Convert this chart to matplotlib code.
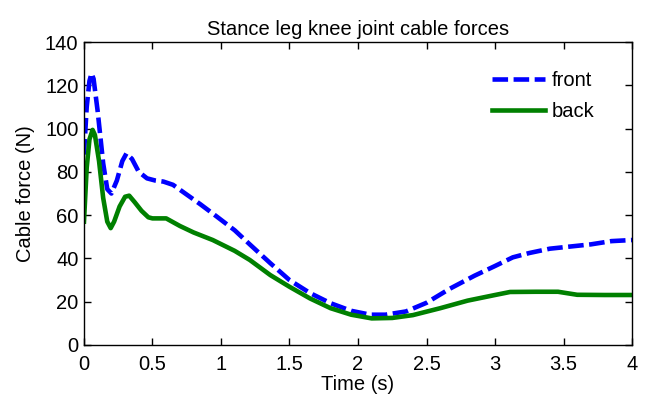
import numpy as np
import matplotlib.pyplot as plt

plt.rcParams['font.family'] = ['Liberation Sans', 'DejaVu Sans']

# front cable force (N) over time (s)
t_front = [0, 0.02, 0.04, 0.055, 0.07, 0.10, 0.14, 0.17, 0.20, 0.24, 0.28, 0.31,
           0.35, 0.40, 0.46, 0.52, 0.58, 0.65, 0.75, 0.85, 0.97, 1.1, 1.21, 1.36,
           1.5, 1.65, 1.8, 1.95, 2.09, 2.2, 2.35, 2.5, 2.67, 2.85, 3.0, 3.13,
           3.25, 3.4, 3.55, 3.7, 3.85, 4.0]
front = [88, 110, 122, 125.5, 123, 108, 84, 72, 70, 76, 85, 88.5,
         86, 80, 77, 76, 75.5, 74, 69.5, 65, 59.3, 53, 46.5, 37.8,
         30, 24, 19.3, 15.8, 14, 14, 15.5, 19.5, 26, 32, 36.5, 40.5,
         42.5, 44.5, 45.5, 46.5, 48, 48.5]

# back cable force (N) over time (s)
t_back = [0, 0.02, 0.04, 0.063, 0.08, 0.11, 0.14, 0.17, 0.195, 0.22, 0.26, 0.30,
          0.33, 0.37, 0.42, 0.47, 0.50, 0.6, 0.7, 0.8, 0.94, 1.1, 1.21, 1.36,
          1.5, 1.65, 1.8, 1.95, 2.1, 2.25, 2.4, 2.6, 2.8, 3.0, 3.11, 3.3,
          3.46, 3.6, 3.8, 4.0]
back = [57, 82, 95, 99.4, 97, 85, 68, 57, 54, 57, 64, 68.5,
        69, 66, 62, 59, 58.5, 58.5, 55, 52, 48.5, 43.5, 39.3, 32.3,
        26.9, 21.5, 17, 14, 12.3, 12.5, 13.8, 17, 20.5, 23.1, 24.5, 24.6,
        24.6, 23.2, 23.1, 23.1]

xticks = [0, 0.5, 1, 1.5, 2, 2.5, 3, 3.5, 4]
xticklabels = ['0', '0.5', '1', '1.5', '2', '2.5', '3', '3.5', '4']
yticks = [0, 20, 40, 60, 80, 100, 120, 140]

fs = 14.5

fig = plt.figure(figsize=(6.54, 4.0), dpi=100)
ax = fig.add_axes([0.1284, 0.1375, 0.838, 0.7575])

ax.plot(t_front, front, color=(0, 0, 1), lw=3.3, ls=(0, (3.4, 1.2)),
        label='front')
ax.plot(t_back, back, color=(0, 0.5, 0), lw=3.3, label='back')

ax.set_xlim(0, 4)
ax.set_ylim(0, 140)
ax.set_xticks(xticks)
ax.set_xticklabels(xticklabels)
ax.set_yticks(yticks)
ax.tick_params(direction='in', top=True, right=True, labelsize=fs,
               length=5, width=1)
ax.tick_params(axis='x', pad=7)
ax.tick_params(axis='y', pad=4)
for s in ax.spines.values():
    s.set_linewidth(1)

ax.set_title('Stance leg knee joint cable forces', fontsize=fs, pad=5)
ax.set_xlabel('Time (s)', fontsize=fs, labelpad=1)
ax.set_ylabel('Cable force (N)', fontsize=fs, labelpad=7)

ax.legend(loc='upper left', bbox_to_anchor=(0.745, 0.905), frameon=False,
          fontsize=fs, handlelength=2.6, handletextpad=0.35,
          labelspacing=0.6, borderpad=0, borderaxespad=0)

fig.savefig('out.png', dpi=100)
